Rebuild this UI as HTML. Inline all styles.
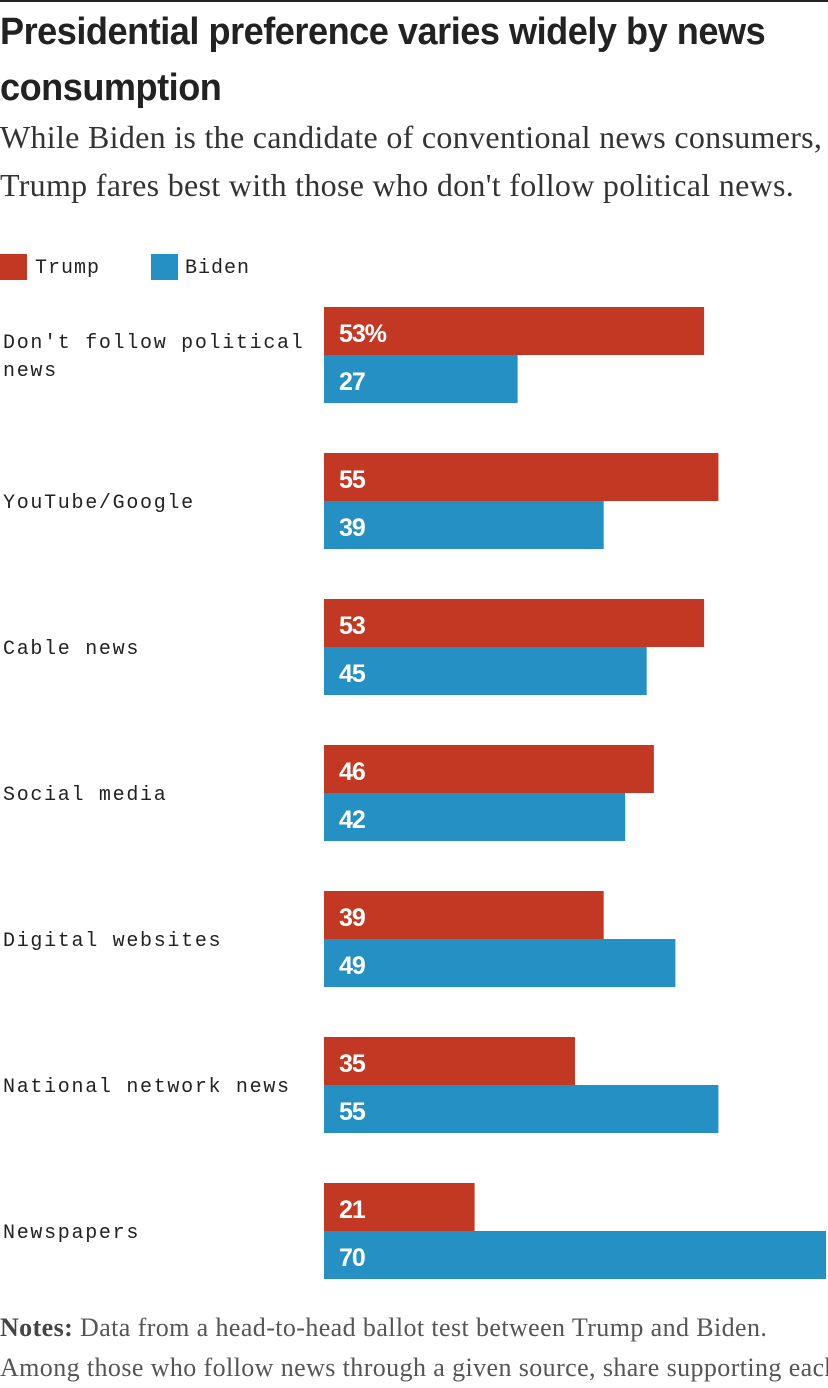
<!DOCTYPE html>
<html><head><meta charset="utf-8"><style>
body{margin:0;width:828px;height:1350px;overflow:hidden;background:#fff;position:relative;font-family:"Liberation Sans",sans-serif}
#rule{position:absolute;left:0;top:0;width:828px;height:2px;background:#222}
h1{position:absolute;left:0;top:4px;margin:0;font-family:"Liberation Sans",sans-serif;font-weight:bold;font-size:38px;line-height:56px;color:#222;letter-spacing:-0.5px;width:880px;transform:scaleX(0.95);transform-origin:0 0}
#sub{position:absolute;left:0;top:113px;font-family:"Liberation Serif",serif;font-size:32px;line-height:48px;color:#333;letter-spacing:0.3px;white-space:nowrap}
.leg{position:absolute;top:256px;font-family:"Liberation Mono",monospace;font-size:20px;color:#222;line-height:26px;letter-spacing:1px}
.sw{position:absolute;top:254px;width:27px;height:26px}
#notes{position:absolute;left:0;top:1308px;font-family:"Liberation Serif",serif;font-size:26px;color:#555;line-height:40px;white-space:nowrap;letter-spacing:0.4px}
svg text{font-family:"Liberation Mono",monospace}
</style></head><body>
<div id="rule"></div>
<h1>Presidential preference varies widely by news<br>consumption</h1>
<div id="sub">While Biden is the candidate of conventional news consumers,<br>Trump fares best with those who don't follow political news.</div>
<div class="sw" style="left:0;background:#c33822"></div>
<div class="leg" style="left:35px">Trump</div>
<div class="sw" style="left:151px;background:#2490c4"></div>
<div class="leg" style="left:185px">Biden</div>
<svg id="chart" width="828" height="1300" style="position:absolute;left:0;top:0"></svg>
<div id="notes"><b style="color:#444">Notes:</b> Data from a head-to-head ballot test between Trump and Biden.<br>Among those who follow news through a given source, share supporting each</div>
<script>
const categories=["Don't follow political|news","YouTube/Google","Cable news","Social media","Digital websites","National network news","Newspapers"];
const trumpValues=[53,55,53,46,39,35,21];
const bidenValues=[27,39,45,42,49,55,70];
const svg=document.getElementById('chart');
const NS='http://www.w3.org/2000/svg';
const x0=324,scale=502/70;
function xw(v){return v*scale;}
function rowY(i){return 307+i*146;}
function mk(t,a){const e=document.createElementNS(NS,t);for(const k in a)e.setAttribute(k,a[k]);svg.appendChild(e);return e;}
categories.forEach((c,i)=>{
  const y=rowY(i);
  const lines=c.split('|');
  lines.forEach((l,j)=>{
    const t=mk('text',{x:3,y:(lines.length>1?y+41+j*28:y+55),'font-size':20,fill:'#222','letter-spacing':'1.7'});
    t.textContent=l;
    
    
  });
  [[trumpValues[i],'#c33822',0,'trump'],[bidenValues[i],'#2490c4',48,'biden']].forEach(([v,col,off,s])=>{
    const r=mk('rect',{x:x0,y:y+off,width:xw(v),height:48,fill:col});
    
    
    const t=mk('text',{x:x0+15,y:y+off+35,'font-size':25,'font-weight':'bold',fill:'#fff','letter-spacing':'-1',style:'font-family:"Liberation Sans",sans-serif'});
    t.textContent=v+(i===0&&s==='trump'?'%':'');
    
    
  });
});
</script>
</body></html>
